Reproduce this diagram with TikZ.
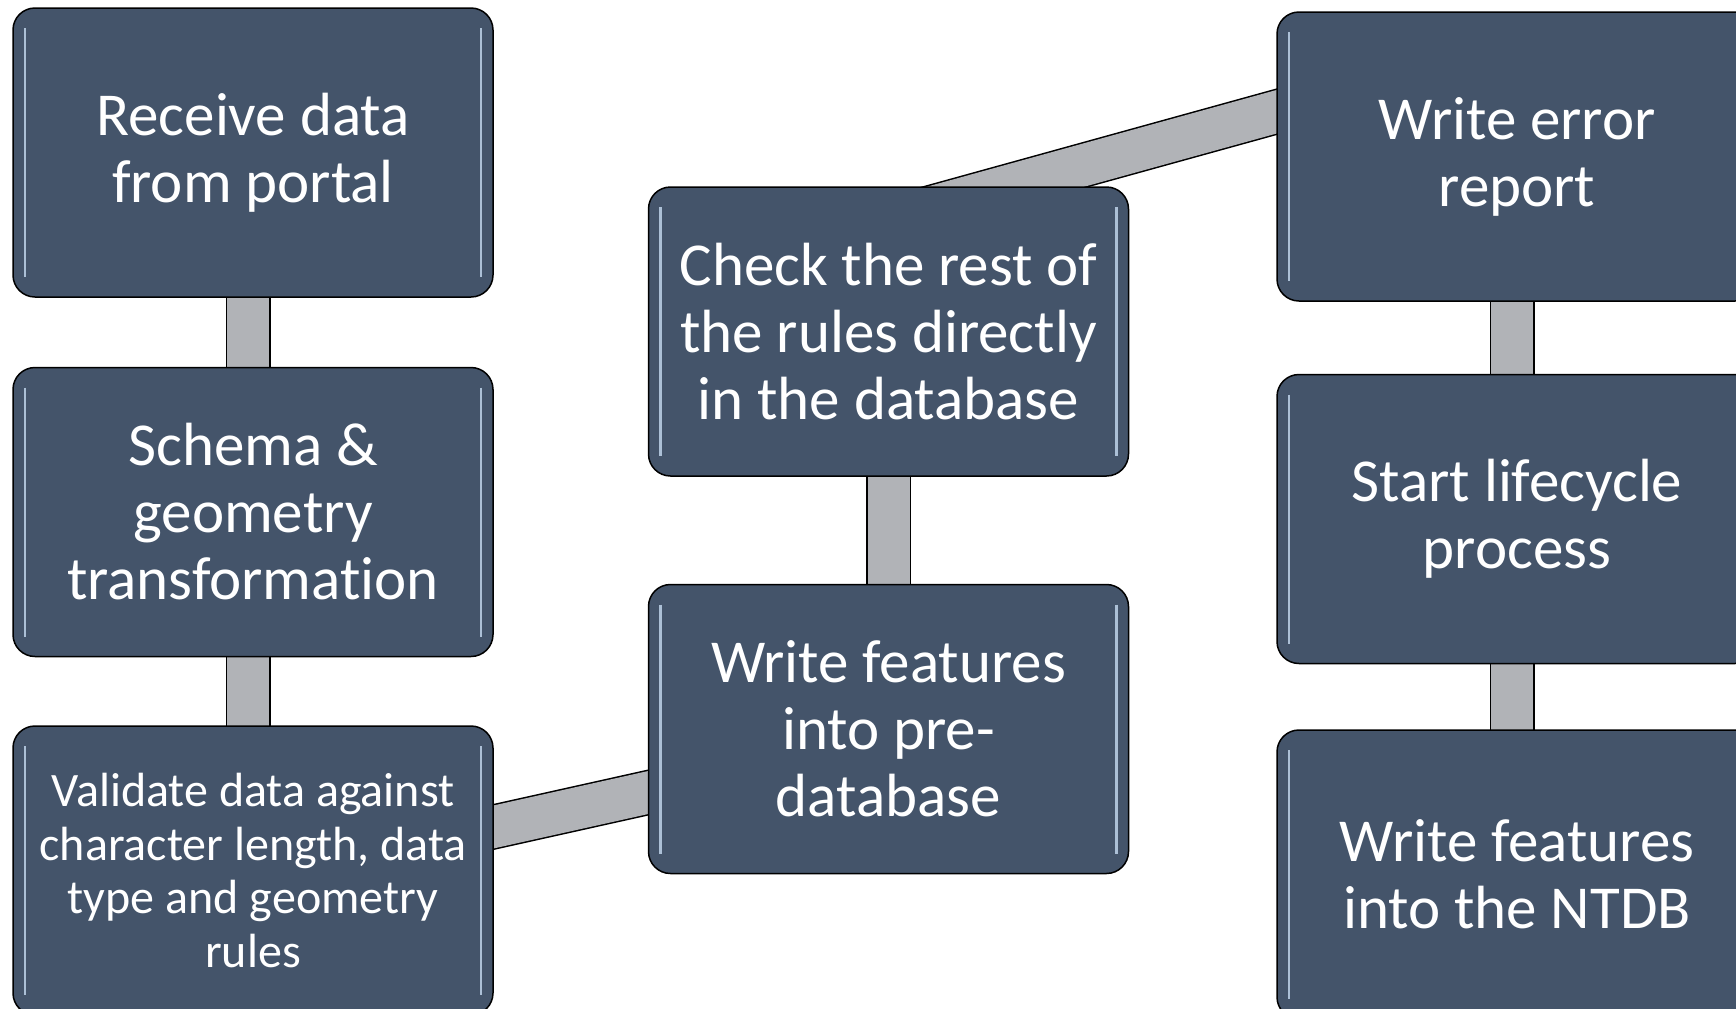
\documentclass[tikz,border=0pt]{standalone}
\usepackage{fontspec}
\setmainfont{Carlito}[Ligatures=NoCommon]
\usetikzlibrary{positioning, backgrounds}
\definecolor{boxblue}{RGB}{68,84,106}
\definecolor{bargray}{RGB}{177,179,183}
\definecolor{gloss}{RGB}{172,192,214}
\newcommand{\boxfont}{\fontsize{30.5pt}{33.5pt}\selectfont}
\newcommand{\smallboxfont}{\fontsize{24pt}{26.7pt}\selectfont}
\tikzstyle{stepbox} = [rectangle, rounded corners=11pt, minimum width=240pt, minimum height=144.5pt, text centered, align=center, draw=black, line width=0.75pt, fill=boxblue, text=white, font=\boxfont,
  path picture={
    \draw[gloss, line width=1.2pt] ([xshift=6pt,yshift=-10pt]path picture bounding box.north west) -- ([xshift=6pt,yshift=10pt]path picture bounding box.south west);
    \draw[gloss, line width=1.2pt] ([xshift=-6pt,yshift=-10pt]path picture bounding box.north east) -- ([xshift=-6pt,yshift=10pt]path picture bounding box.south east);
  }]
\tikzstyle{bar} = [draw=black, line width=0.75pt, double=bargray, double distance=21pt]

\begin{document}
\begin{tikzpicture}
			\useasboundingbox (0,0) rectangle (868pt,-504pt);
			\node (receive) [stepbox] at (126.5pt,-76.25pt) {Receive data\\from portal};
			\node (schema) [stepbox, below=34.5pt of receive] {Schema \&\\geometry\\transformation};
			\node (validate) [stepbox, below=34pt of schema, font=\smallboxfont] {Validate data against\\character length, data\\type and geometry\\rules};

			\node (check) [stepbox, right=77pt of receive, yshift=-89.5pt] {Check the rest of\\the rules directly\\in the database};
			\node (prewrite) [stepbox, below=53.5pt of check] {Write features\\into pre-\\database};

			\node (error) [stepbox, right=73.5pt of check, yshift=87.5pt] {Write error\\report};
			\node (lifecycle) [stepbox, below=36pt of error] {Start lifecycle\\process};
			\node (ntdb) [stepbox, below=32.5pt of lifecycle] {Write features\\into the NTDB};

			% bars behind the boxes
			\begin{scope}[on background layer]
			\draw [bar] ([xshift=-2.5pt]receive.center) -- ([xshift=-2.5pt]validate.center);
			\draw [bar] ([yshift=-5pt]validate.center) -- ([yshift=-5pt]prewrite.center);
			\draw [bar] (check.center) -- (prewrite.center);
			\draw [bar] ([xshift=-1pt,yshift=-16.7pt]check.north) -- ([xshift=40pt,yshift=33.4pt]error.west);
			\draw [bar] ([xshift=-2.5pt]error.center) -- ([xshift=-2.5pt]ntdb.center);
			\end{scope}
		\end{tikzpicture}
\end{document}
